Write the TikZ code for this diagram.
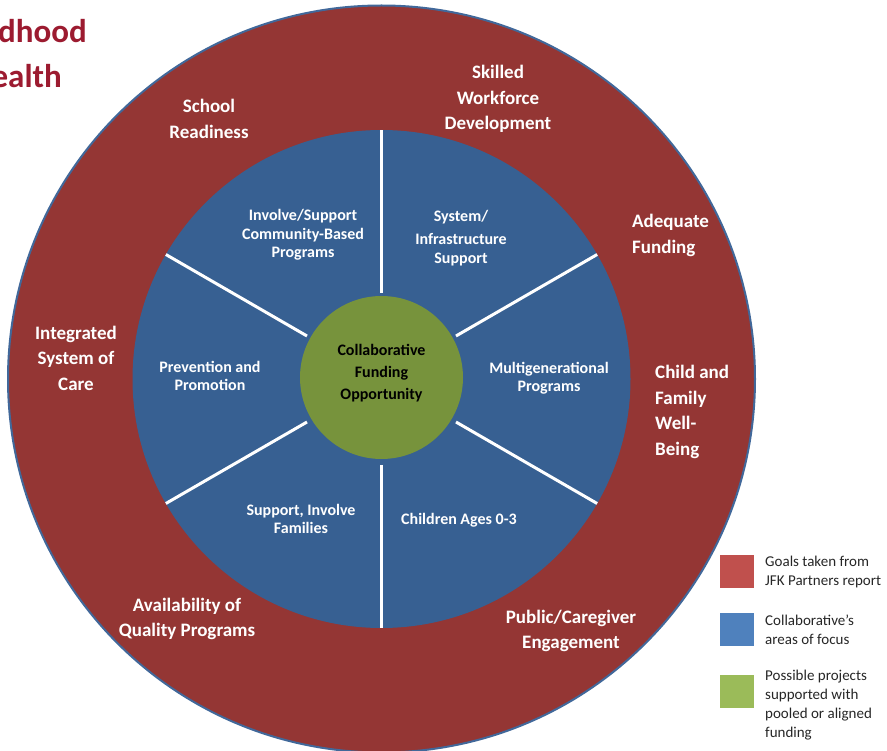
\documentclass[tikz,border=0pt]{standalone}
\usepackage{fontspec}
\setmainfont{Carlito}
\usepackage{tikz}
\definecolor{ringred}{HTML}{943634}
\definecolor{ringedge}{HTML}{41689A}
\definecolor{focusblue}{HTML}{376092}
\definecolor{hubgreen}{HTML}{77933C}
\definecolor{keyred}{HTML}{C0504D}
\definecolor{keyblue}{HTML}{4F81BD}
\definecolor{keygreen}{HTML}{9BBB59}
\definecolor{titlered}{HTML}{9C1B30}

\begin{document}
\begin{tikzpicture}[x=1pt, y=-1pt,
  goal/.style = {text=white, font=\bfseries\fontsize{19}{25.5}\selectfont, inner sep=0pt, align=center},
  area/.style = {text=white, font=\bfseries\fontsize{16}{18.5}\selectfont, inner sep=0pt, align=center},
  spoke/.style = {draw=white, line width=3pt},
  keybox/.style = {draw=none, minimum width=34pt, minimum height=33pt, inner sep=0pt},
  keytext/.style = {anchor=west, font=\fontsize{15}{19}\selectfont, text=black!85, inner sep=0pt, align=left},
  title/.style = {anchor=base east, font=\bfseries\fontsize{33}{40}\selectfont, text=titlered, inner sep=0pt}]
\useasboundingbox (0,0) rectangle (887,751);
\coordinate (c) at (381.5,379);
\fill [ringred, draw=ringedge, line width=2pt] (c) circle (373.5);
\fill [focusblue] (c) circle (249);
\foreach \a in {90,30,-30,-90,-150,150}
  \draw [spoke] ([shift={(\a:86)}]c) -- ([shift={(\a:249)}]c);
\node[circle, fill=hubgreen, minimum size=163pt, inner sep=0pt] (hub) at (381.5,377.5) {};
\node[font=\bfseries\fontsize{16}{22}\selectfont, align=center, inner sep=0pt] (hubtxt) at (381.5,373) {Collaborative\\Funding\\Opportunity};

\node[title] (t1) at (87,43) {dhood};
\node[title] (t2) at (62,88) {ealth};

\node[goal] (school) at (209,119) {School\\Readiness};
\node[goal] (skilled) at (498,99) {Skilled\\Workforce\\Development};
\node[goal, anchor=west, align=left] (funding) at (632,235.5) {Adequate\\Funding};
\node[goal, anchor=west, align=left] (family) at (655,412) {Child and\\Family\\Well-\\Being};
\node[goal] (integrated) at (76,358) {Integrated\\System of\\Care};
\node[goal] (quality) at (187,619) {Availability of\\Quality Programs};
\node[goal] (public) at (571,631) {Public/Caregiver\\Engagement};

\node[area] (community) at (303,235) {Involve/Support\\Community-Based\\Programs};
\node[area] (system) at (461,238) {System/\\[5pt]Infrastructure\\Support};
\node[area] (prevention) at (210,376) {Prevention and\\Promotion};
\node[area] (multigen) at (549,378) {Multigenerational\\Programs};
\node[area] (families) at (301,519) {Support, Involve\\Families};
\node[area] (children) at (459,520) {Children Ages 0-3};

\node[keybox, fill=keyred] (kgoal) at (737,571.5) {};
\node[keybox, fill=keyblue] (kfocus) at (737,629.5) {};
\node[keybox, fill=keygreen] (kproject) at (737,691.5) {};
\node[keytext] (kgoaltxt) at (765,572) {Goals taken from\\JFK Partners report};
\node[keytext] (kfocustxt) at (765,629.5) {Collaborative’s\\areas of focus};
\node[keytext] (kprojecttxt) at (765,705) {Possible projects\\supported with\\pooled or aligned\\funding};
\end{tikzpicture}
\end{document}
